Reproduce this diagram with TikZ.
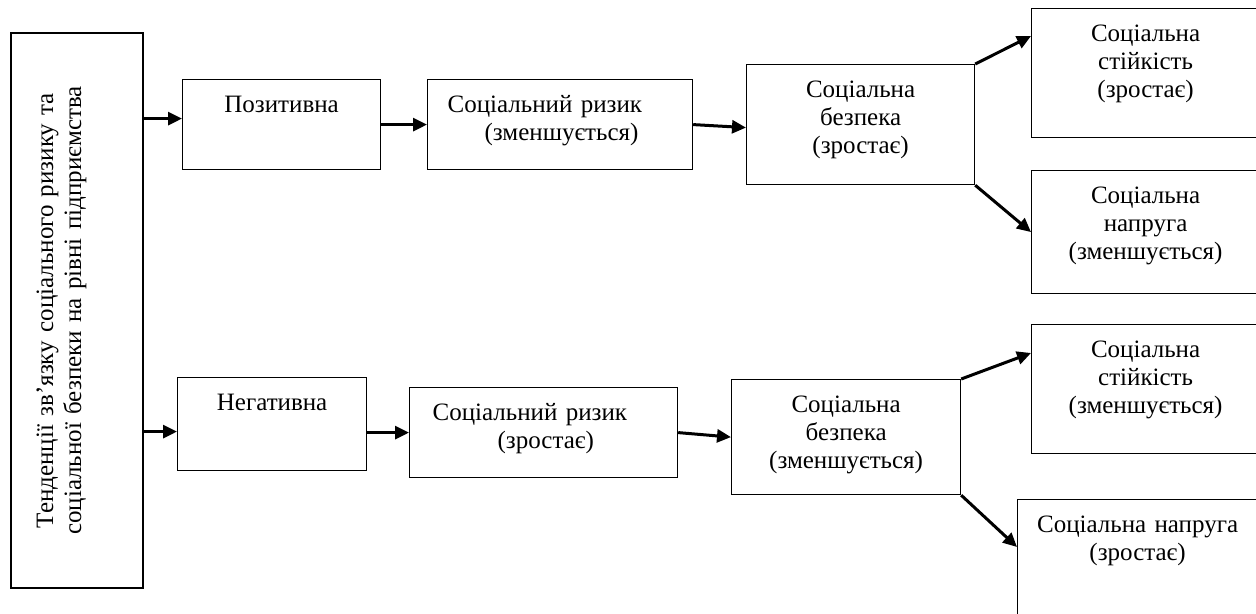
\documentclass[tikz,border=0pt]{standalone}
\usepackage{fontspec}
\setmainfont{Liberation Serif}
\usetikzlibrary{arrows.meta}

\begin{document}
\begin{tikzpicture}[x=0.5pt, y=-0.5pt,
  box/.style={draw, line width=0.6pt, inner xsep=0pt, inner ysep=0pt, text height=16.5pt,
    align=center, anchor=north west, font=\rmfamily\fontsize{12.5}{14}\selectfont},
  arr/.style={line width=1.5pt, -{Triangle[length=7pt, width=6.5pt]}}]
% Frame of the picture (coordinates in px of the scheme)
\useasboundingbox (0,0) rectangle (1256,614);
\clip (0,0) rectangle (1256,614);

% Left box, text turned upwards
\node[box, anchor=center, rotate=90, text width=277.5pt, text height=21pt, text depth=45pt] (trend) at (77,310.5) {Тенденції зв’язку соціального ризику та\\соціальної безпеки на рівні підприємства};

% Top branch
\node[box, text width=99pt, text depth=28.5pt] (pos) at (182,79) {Позитивна};
\node[box, text width=112.5pt, inner xsep=10pt, align=left, text depth=28.5pt] (risk1) at (427,79) {Соціальний ризик\\\hspace*{18.5pt}(зменшується)};
\node[box, text width=114pt, text depth=43.5pt] (safe1) at (746,64) {Соціальна\\безпека\\(зростає)};
\node[box, text width=114pt, text depth=48pt] (stab1) at (1031,8) {Соціальна\\стійкість\\(зростає)};
\node[box, text width=114pt, text depth=45pt] (tens1) at (1031,170) {Соціальна\\напруга\\(зменшується)};

% Bottom branch
\node[box, text width=94.5pt, text depth=30pt] (neg) at (177,377) {Негативна};
\node[box, text width=111pt, inner xsep=11.5pt, align=left, text depth=28.5pt] (risk2) at (409,387) {Соціальний ризик\\\hspace*{32.5pt}(зростає)};
\node[box, text width=114.5pt, text depth=41pt] (safe2) at (731,379) {Соціальна\\безпека\\(зменшується)};
\node[box, text width=114pt, text depth=48pt] (stab2) at (1031,324) {Соціальна\\стійкість\\(зменшується)};
\node[box, text width=120pt, text depth=53.5pt] (tens2) at (1017,499) {Соціальна напруга\\(зростає)};

% Arrows (trend is turned, so its south side is the right one)
\coordinate (pin1) at ([yshift=3pt]pos.west);
\coordinate (pin2) at ([yshift=-3.75pt]neg.west);
\draw[arr] (trend.south |- pin1) -- (pin1);
\draw[arr] (pos.east) -- (risk1.west);
\draw[arr] (risk1.east) -- ([yshift=-1.5pt]safe1.west);
\draw[arr] (safe1.north east) -- ([yshift=-14pt]stab1.north west);
\draw[arr] (safe1.south east) -- (tens1.west);

\draw[arr] (trend.south |- pin2) -- (pin2);
\draw[arr] (neg.east |- risk2.west) -- (risk2.west);
\draw[arr] (risk2.east) -- (safe2.west);
\draw[arr] (safe2.north east) -- ([yshift=-14.5pt]stab2.north west);
\draw[arr] (safe2.south east) -- ([yshift=-24pt]tens2.north west);
\end{tikzpicture}
\end{document}
